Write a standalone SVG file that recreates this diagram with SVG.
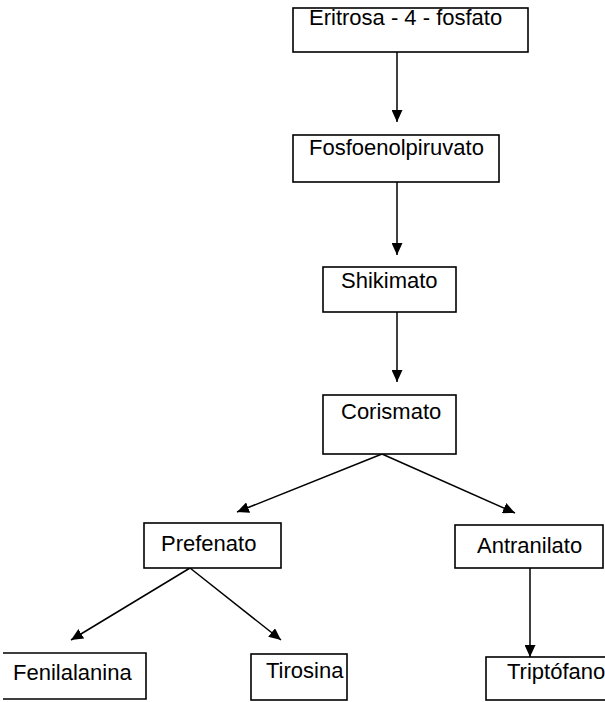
<svg xmlns="http://www.w3.org/2000/svg" width="605" height="702" viewBox="0 0 605 702">
<defs>
<marker id="ah" markerUnits="userSpaceOnUse" markerWidth="13" markerHeight="11" refX="12" refY="5.5" orient="auto">
<path d="M0,0 L12,5.5 L0,11 Z" fill="#000"/>
</marker>
<style>
.box{fill:#fff;stroke:#000;stroke-width:1.6}
.lbl{font-family:"Liberation Sans",Arial,sans-serif;font-size:22px;fill:#000}
.con line{stroke:#000;stroke-width:1.5;marker-end:url(#ah)}
</style>
</defs>
<rect width="605" height="702" fill="#fff"/>
<g id="connectors" class="con">
<line x1="397" y1="52" x2="397" y2="122"/>
<line x1="397" y1="182" x2="397" y2="255"/>
<line x1="397" y1="312" x2="397" y2="382"/>
<line x1="382" y1="454" x2="237" y2="512"/>
<line x1="382" y1="454" x2="515" y2="513"/>
<line x1="190" y1="568" x2="71" y2="640"/>
<line x1="190" y1="568" x2="281" y2="640"/>
<line x1="530" y1="568" x2="530" y2="657"/>
</g>
<g id="eritrosa"><rect class="box" x="293" y="8" width="235" height="44"/><text class="lbl" x="309" y="25">Eritrosa - 4 - fosfato</text></g>
<g id="fosfoenolpiruvato"><rect class="box" x="293" y="135" width="206" height="47"/><text class="lbl" x="309" y="155">Fosfoenolpiruvato</text></g>
<g id="shikimato"><rect class="box" x="323" y="267" width="133" height="45"/><text class="lbl" x="341" y="288">Shikimato</text></g>
<g id="corismato"><rect class="box" x="323" y="395" width="133" height="59"/><text class="lbl" x="341" y="419">Corismato</text></g>
<g id="prefenato"><rect class="box" x="144" y="523" width="137" height="45"/><text class="lbl" x="161" y="551">Prefenato</text></g>
<g id="antranilato"><rect class="box" x="455" y="525" width="148" height="43"/><text class="lbl" x="477" y="553">Antranilato</text></g>
<g id="fenilalanina"><path d="M3,653 H146 V699 H3" fill="none" stroke="#000" stroke-width="1.6"/><text class="lbl" x="13" y="680">Fenilalanina</text></g>
<g id="tirosina"><rect class="box" x="251" y="654" width="96" height="46"/><text class="lbl" x="266" y="678">Tirosina</text></g>
<g id="triptofano"><rect class="box" x="486" y="657" width="140" height="43"/><text class="lbl" x="507" y="679">Triptófano</text></g>
</svg>
